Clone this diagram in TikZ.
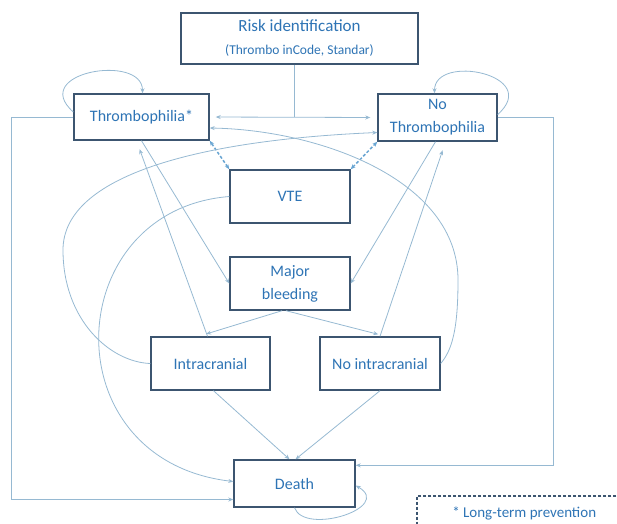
\documentclass[tikz,border=0pt]{standalone}
\usepackage{fontspec}
\setmainfont{Carlito}
\usetikzlibrary{arrows.meta}
\definecolor{boxline}{RGB}{60,85,112}
\definecolor{boxtext}{RGB}{46,116,181}
\definecolor{linkcol}{RGB}{150,185,210}
\definecolor{twowaycol}{RGB}{105,165,210}
\begin{document}
\begin{tikzpicture}[x=1pt,y=-1pt,>={Stealth[length=5pt,width=4pt]},
		state/.style={draw=boxline,line width=1.4pt,fill=white,text=boxtext,align=center,font=\fontsize{16}{23}\selectfont,inner sep=2pt},
		link/.style={draw=linkcol,line width=0.8pt},
		twoway/.style={draw=twowaycol,line width=1.5pt,dash pattern=on 3pt off 2pt,<->}]
		\useasboundingbox (0,0) rectangle (617,523);
		
		%states
		\node (risk) at (299.5,38.5)[state,minimum width=237pt,minimum height=51pt]{\fontsize{17}{18}\selectfont Risk identification\\{\fontsize{13.5}{15}\selectfont (Thrombo inCode, Standar)}};
		\node (thr) at (141.5,117)[state,minimum width=135pt,minimum height=46pt]{Thrombophilia*};
		\node (nothr) at (437.5,117.5)[state,minimum width=119pt,minimum height=47pt]{No\\Thrombophilia};
		\node (vte) at (290,196.5)[state,minimum width=120pt,minimum height=53pt]{VTE};
		\node (major) at (290,283.5)[state,minimum width=120pt,minimum height=53pt]{Major\\bleeding};
		\node (intra) at (210.5,363.5)[state,minimum width=119pt,minimum height=53pt]{Intracranial};
		\node (nointra) at (380,363.5)[state,minimum width=120pt,minimum height=53pt]{No intracranial};
		\node (death) at (294.5,483.5)[state,minimum width=121pt,minimum height=47pt]{Death};
		
		%legend
		\node (note) at (417,496)[anchor=north west,text=boxtext,minimum width=214pt,minimum height=40pt,font=\fontsize{15}{17}\selectfont,inner xsep=0pt]{\raisebox{8pt}{* Long-term prevention}\hspace{10pt}};
		\draw[boxline,line width=1.3pt,dash pattern=on 3pt off 2pt] (note.north east) -| (note.south west);
		
		%risk split
		\coordinate (split) at ([xshift=-5pt]risk.south |- thr.east);
		\draw[link] ([xshift=-5pt]risk.south) -- (split);
		\draw[link,<->,shorten <=6pt,shorten >=7pt] (thr.east) -- (nothr.west);
		
		%outer frame
		\draw[link,->] (thr.west) -- ++(-62,0) |- ([yshift=-16pt]death.west);
		\draw[link,->] (nothr.east) -- ++(56,0) |- ([yshift=-6pt]death.north east);
		
		%self loops
		\draw[link,->] ([yshift=5pt]thr.west) .. controls +(-45,-40) and +(0,-40) .. ([xshift=1pt]thr.north);
		\draw[link,->] ([yshift=3pt]nothr.east) .. controls +(45,-40) and +(0,-40) .. ([xshift=-3pt]nothr.north);
		\draw[link,->] (death.south) .. controls +(10,28) and +(38,22) .. ([yshift=-2pt]death.east);
		
		%bleeding
		\draw[link,->] (thr.south) -- (major.west);
		\draw[link,->] ([xshift=-2pt]nothr.south) -- (major.east);
		\draw[link,->,shorten >=8pt] ([xshift=-8pt]major.south) -- ([xshift=-12pt]intra.north);
		\draw[link,->,shorten >=8pt] ([xshift=-4pt]major.south) -- ([xshift=6pt]nointra.north);
		\draw[link,->,shorten >=9pt] ([xshift=-3pt]intra.north) -- ([xshift=-5pt]thr.south);
		\draw[link,->,shorten >=9pt] (nointra.north) -- ([xshift=8pt]nothr.south);
		
		%death
		\draw[link,->] ([xshift=3pt]intra.south) -- ([xshift=-5pt]death.north);
		\draw[link,->] (nointra.south) -- ([xshift=1pt]death.north);
		
		%vte
		\draw[twoway] (vte.north west) -- (thr.south east);
		\draw[twoway] (vte.north east) -- (nothr.south west);
		
		%long curves
		\draw[link,->] (vte.west) .. controls (60,210) and (50,460) .. ([yshift=2pt]death.west);
		\draw[link,->] (intra.west) .. controls (110,362) and (63,320) .. (63,250) .. controls (63,175) and (200,140) .. ([yshift=-15pt]nothr.west);
		\draw[link,->] (nointra.east) .. controls (452,350) and (458,330) .. (458,280) .. controls (458,180) and (320,130) .. ([yshift=-11pt]thr.east);
\end{tikzpicture}
\end{document}
